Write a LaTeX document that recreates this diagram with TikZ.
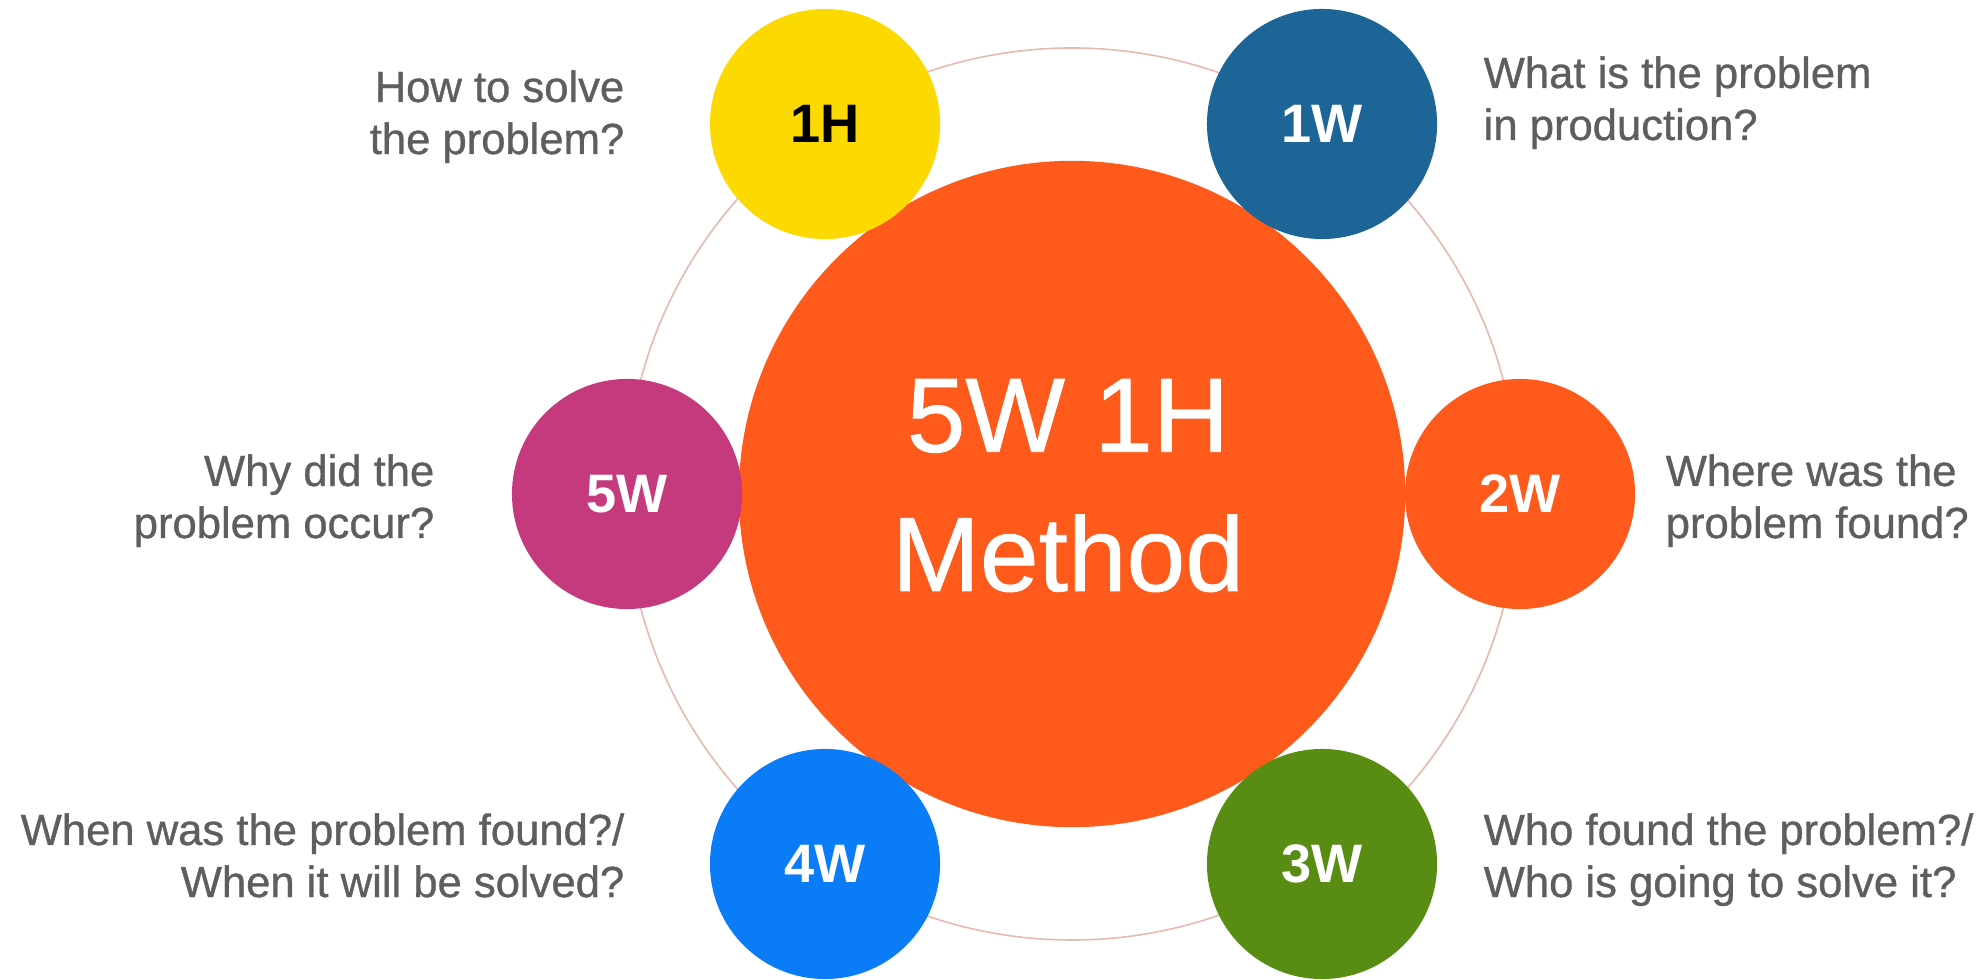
\documentclass[tikz,border=0pt]{standalone}
\usepackage{fontspec}
\setmainfont{Liberation Sans}
\newfontfamily\medfont[FakeBold=0.8]{Liberation Sans}
\usetikzlibrary{positioning}

\definecolor{hubOrange}{HTML}{FD5A1B}
\definecolor{howYellow}{HTML}{FCD900}
\definecolor{whatBlue}{HTML}{1D6596}
\definecolor{whoGreen}{HTML}{588C12}
\definecolor{whenBlue}{HTML}{0B7CF7}
\definecolor{whyPink}{HTML}{C5397D}
\definecolor{ringLine}{HTML}{E6B8AE}
\definecolor{askGray}{HTML}{5E5E5E}

\tikzset{
  hub/.style={circle, fill=hubOrange, minimum size=6.66cm, inner sep=0pt},
  bubble/.style={circle, minimum size=2.3cm, inner sep=0pt, text=white,
    font=\fontsize{15.4}{18}\selectfont\bfseries},
  question/.style={text=askGray, inner sep=0pt,
    font=\fontsize{12.4}{14.8}\selectfont\medfont}
}

\begin{document}
\begin{tikzpicture}[x=0.01cm,y=-0.01cm]
\useasboundingbox (0,0) rectangle (1986,980);

 % Ring and hub
\draw[ringLine, line width=0.45pt] (1072,494) circle (446);
\node[hub] (hub) at (1072,494) {};
\node[text=white, align=center, anchor=base, inner sep=0pt,
  font=\fontsize{30}{39.6}\selectfont\medfont] (title) at (1068,591) {5W 1H\\Method};

 % Bubbles
\node[bubble, fill=howYellow, text=black] (h1) at (825,124) {1H};
\node[bubble, fill=whatBlue]  (w1) at (1322,124) {1W};
\node[bubble, fill=hubOrange] (w2) at (1520,494) {2W};
\node[bubble, fill=whoGreen]  (w3) at (1322,864) {3W};
\node[bubble, fill=whenBlue]  (w4) at (825,864)  {4W};
\node[bubble, fill=whyPink]   (w5) at (627,494)  {5W};

 % Questions
\node[question, align=right, anchor=base east] (qh1) at (625,154) {How to solve\\the problem?};
\node[question, align=left, anchor=base west]  (qw1) at (1483,140) {What is the problem\\in production?};
\node[question, align=left, anchor=base west]  (qw2) at (1665,538) {Where was the\\problem found?};
\node[question, align=left, anchor=base west]  (qw3) at (1483,897) {Who found the problem?/\\Who is going to solve it?};
\node[question, align=right, anchor=base east] (qw4) at (625,897) {When was the problem found?/\\When it will be solved?};
\node[question, align=right, anchor=base east] (qw5) at (435,538) {Why did the\\problem occur?};

\end{tikzpicture}
\end{document}
